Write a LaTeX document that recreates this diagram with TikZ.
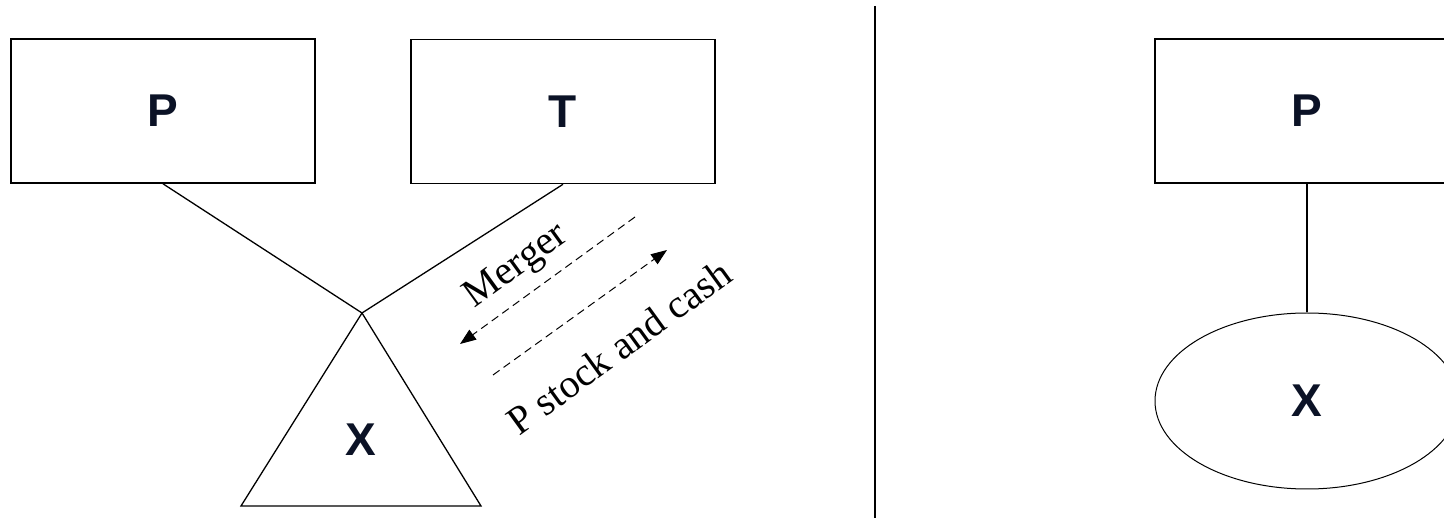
\documentclass[tikz,border=0pt]{standalone}
\usepackage{fontspec}
\setmainfont{Liberation Serif}
\setsansfont{Liberation Sans}
\usepackage{tikz}
\usetikzlibrary{arrows.meta,shapes.geometric}
\definecolor{Navy}{HTML}{0B1226}

\begin{document}
\begin{tikzpicture}[x=1pt,y=-1pt,
    blk/.style={draw=black,minimum width=304pt,minimum height=144pt,line width=1.6pt,
      font=\sffamily\bfseries\fontsize{46}{50}\selectfont,text=Navy},
    sub/.style={font=\sffamily\bfseries\fontsize{46}{50}\selectfont,text=Navy},
    lnk/.style={line width=1.3pt},
    flow/.style={dash pattern=on 8pt off 5pt,line width=1pt,
      -{Triangle[length=16pt,width=12pt]}},
    lbl/.style={font=\fontsize{40}{44}\selectfont,rotate=36}]
  \useasboundingbox (0,0) rectangle (1444,518);
  \clip (0,0) rectangle (1444,518);
  % before the merger
  \node[blk] (P) at (163,111) {P};
  \node[blk] (T) at (563,111.5) {T};
  \coordinate (apex) at (362,313);
  \draw[lnk] (apex) -- ++(-121,193) -- ++(240,0) -- cycle;
  \node[sub] (Xt) at (361,440) {X};
  \draw[lnk] (P.south) -- (apex);
  \draw[lnk] (T.south) -- (apex);
  \coordinate (m1) at (635,217);
  \coordinate (m2) at (460,344);
  \coordinate (s1) at (493,375);
  \coordinate (s2) at (667,250);
  \draw[flow] (m1) -- (m2);
  \draw[flow] (s1) -- (s2);
  \node[lbl] (mrg) at (517,267) {Merger};
  \node[lbl] (pay) at (619,347) {P stock and cash};
  % divider
  \coordinate (d1) at (875,6);
  \coordinate (d2) at (875,518);
  \draw[line width=2pt] (d1) -- (d2);
  % after the merger
  \node[blk] (P2) at (1307,111) {P};
  \node[ellipse,draw,line width=1pt,minimum width=304pt,minimum height=176pt,sub] (Xe) at (1307,401) {X};
  \draw[lnk] (P2.south) -- (Xe.north);
\end{tikzpicture}
\end{document}
